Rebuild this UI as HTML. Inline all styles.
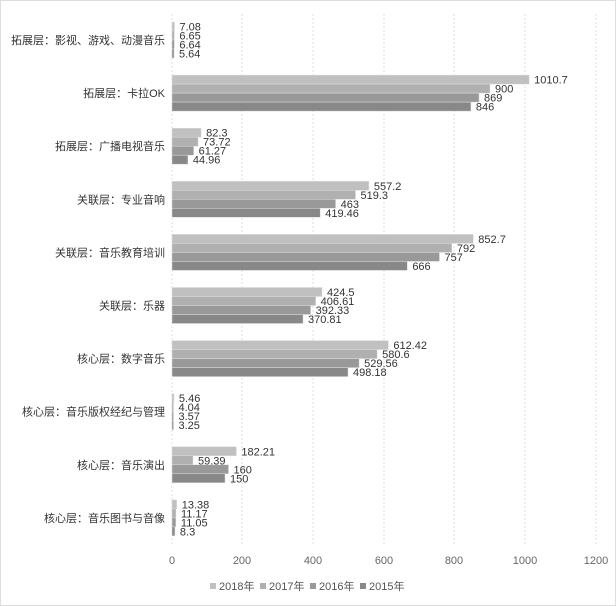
<!DOCTYPE html>
<html><head><meta charset="utf-8"><style>
html,body{margin:0;padding:0;background:#fff}
svg{display:block}
text{font-family:"Liberation Sans","Noto Sans CJK SC",sans-serif}
</style></head><body>
<svg width="616" height="606" viewBox="0 0 616 606" xmlns="http://www.w3.org/2000/svg">
<rect x="0.5" y="0.5" width="615" height="605" fill="#fff" stroke="#ddd"/>
<g id="grid" stroke="#ddd" stroke-dasharray="2,2"></g>
<g id="bars"></g>
<g id="labels" font-size="11" fill="#333"></g>
<g font-size="11" fill="#666" text-anchor="middle">
<text x="172" y="564">0</text><text x="242" y="564">200</text><text x="313" y="564">400</text>
<text x="384" y="564">600</text><text x="454" y="564">800</text><text x="525" y="564">1000</text><text x="596" y="564">1200</text>
</g>
<g font-size="11" fill="#555">
<rect x="210" y="583" width="6" height="6" fill="#c0c0c0"/><text x="219" y="590">2018年</text>
<rect x="260" y="583" width="6" height="6" fill="#b0b0b0"/><text x="269" y="590">2017年</text>
<rect x="310" y="583" width="6" height="6" fill="#999"/><text x="319" y="590">2016年</text>
<rect x="360" y="583" width="6" height="6" fill="#888"/><text x="369" y="590">2015年</text>
</g>
</svg>
<script>
const cats=["拓展层：影视、游戏、动漫音乐","拓展层：卡拉OK","拓展层：广播电视音乐","关联层：专业音响","关联层：音乐教育培训","关联层：乐器","核心层：数字音乐","核心层：音乐版权经纪与管理","核心层：音乐演出","核心层：音乐图书与音像"];
const d=[[7.08,6.65,6.64,5.64],[1010.7,900,869,846],[82.3,73.72,61.27,44.96],[557.2,519.3,463,419.46],[852.7,792,757,666],[424.5,406.61,392.33,370.81],[612.42,580.6,529.56,498.18],[5.46,4.04,3.57,3.25],[182.21,59.39,160,150],[13.38,11.17,11.05,8.3]];
const cols=["#c0c0c0","#b0b0b0","#999","#888"];
const ns="http://www.w3.org/2000/svg";
function el(t,a,p,txt){const e=document.createElementNS(ns,t);for(const k in a)e.setAttribute(k,a[k]);if(txt!==undefined)e.textContent=txt;document.getElementById(p).appendChild(e);}
[172,242,313,384,454,525,596].forEach(x=>el("line",{x1:x,x2:x,y1:14,y2:545},"grid"));
const s=424/1200;
d.forEach((g,i)=>{const top=22+53.1*i;
 el("text",{x:165,y:top+22,"text-anchor":"end","font-size":"11",fill:"#333"},"labels",cats[i]);
 g.forEach((v,j)=>{const y=top+j*9;const w=Math.max(v*s,1.5);
  el("rect",{x:172,y:y,width:w,height:9,fill:cols[j],stroke:"#ddd","stroke-width":"0.5"},"bars");
  el("text",{x:172+w+5,y:y+8.5},"labels",String(v));});});
</script>
</body></html>
